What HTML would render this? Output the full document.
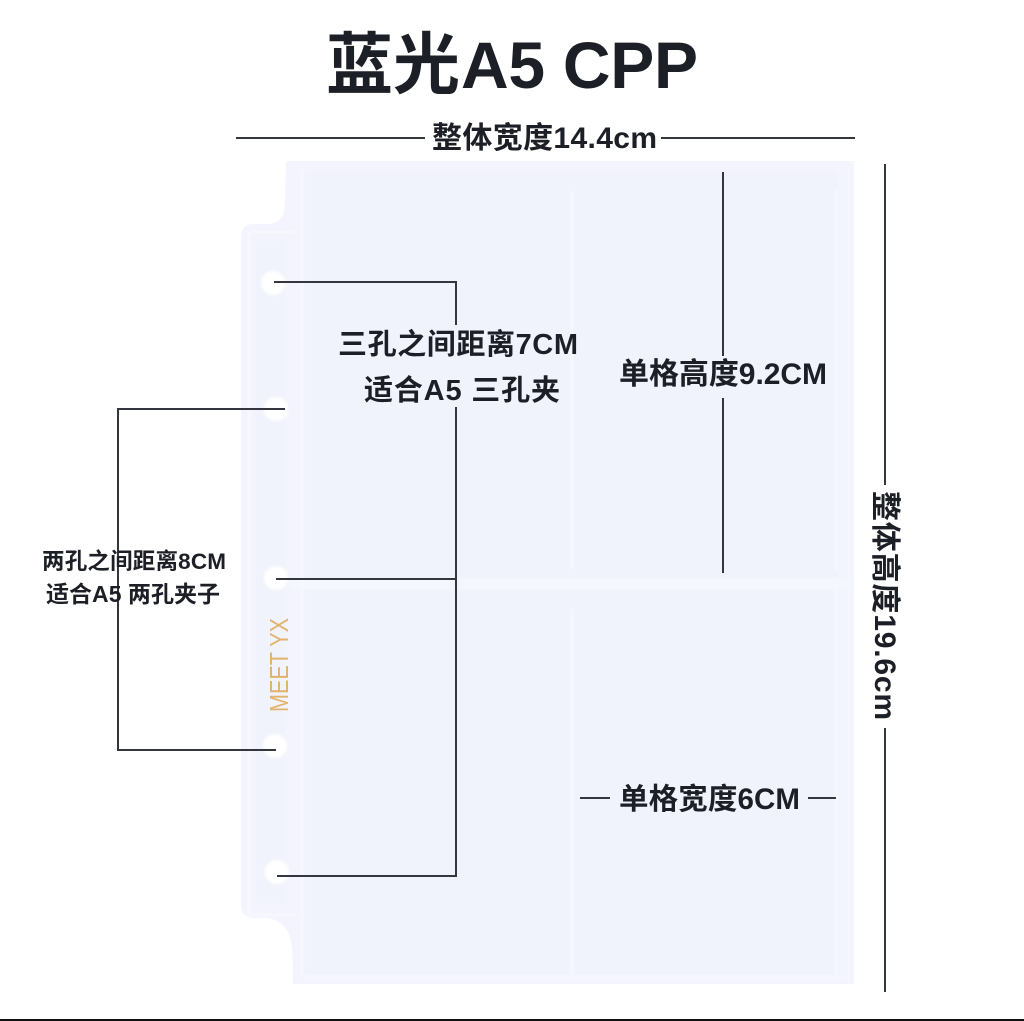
<!DOCTYPE html>
<html lang="zh"><head><meta charset="utf-8"><style>
html,body{margin:0;padding:0;background:#fff}
svg{display:block}
text{font-family:"Liberation Sans","Noto Sans CJK SC",sans-serif;fill:#1c1f26;font-weight:700}
</style></head><body>
<svg width="1024" height="1021" viewBox="0 0 1024 1021" xmlns="http://www.w3.org/2000/svg">
<defs><filter id="b" x="-5%" y="-5%" width="110%" height="110%"><feGaussianBlur stdDeviation="1.2"/></filter></defs>
<rect width="1024" height="1021" fill="#fff"/>
<path d="M286 161H854V984H293Q293 950 291 942Q288 922 268 918H252Q241 916 241 905V238Q241 224 254 224H270Q284 222 285 205Z" fill="#f3f4fd"/>
<g filter="url(#b)">
<rect x="304" y="172" width="534" height="804" fill="#f0f2fc"/>
<rect x="255" y="240" width="30" height="664" fill="#f1f3fc"/>
<rect x="290" y="578" width="560" height="12" fill="#f5f7fe"/>
<g fill="none" stroke="#f8f9ff" stroke-width="2.5">
<path d="M302 170V976"/><path d="M249 232H298M249 915H298M249 232V915"/>
<path d="M572 190V570M572 608V975"/>
<path d="M304 977H846"/>
<path d="M836 190V570M836 590V975"/>
</g>
</g>
<g fill="#fff" filter="url(#b)"><ellipse cx="273" cy="283" rx="12" ry="12"/><ellipse cx="276" cy="409" rx="12" ry="12"/><ellipse cx="276" cy="578" rx="12" ry="12"/><ellipse cx="275" cy="746" rx="12" ry="12"/><ellipse cx="277" cy="872" rx="12" ry="12"/></g>
<g fill="none" stroke="#33363e" stroke-width="2">
<path d="M236 138H425M661 138H855"/>
<path d="M274 282H456V325M456 407V876H277"/>
<path d="M276 579H456"/>
<path d="M285 409H118V750H276"/>
<path d="M723 172V356M723 398V573"/>
<path d="M885 164V485M885 728V992"/>
<path d="M580 798H610M808 798H836"/>
</g>
<rect x="0" y="1019" width="1024" height="2" fill="#111"/>
<text x="326" y="88" font-size="67">蓝光</text>
<text x="461" y="88" font-size="66" textLength="237" lengthAdjust="spacing">A5 CPP</text>
<text x="432" y="148" font-size="30" textLength="225" lengthAdjust="spacing">整体宽度14.4cm</text>
<text x="338" y="354" font-size="29" textLength="240" lengthAdjust="spacing">三孔之间距离7CM</text>
<text x="364" y="400" font-size="29" textLength="196" lengthAdjust="spacing">适合A5 三孔夹</text>
<text x="619" y="384" font-size="30" textLength="208" lengthAdjust="spacing">单格高度9.2CM</text>
<text x="619" y="809" font-size="29.5" textLength="181" lengthAdjust="spacing">单格宽度6CM</text>
<text x="42" y="569" font-size="22.5" textLength="184" lengthAdjust="spacing">两孔之间距离8CM</text>
<text x="46" y="602" font-size="23" textLength="174" lengthAdjust="spacing">适合A5 两孔夹子</text>
<text transform="translate(875 491) rotate(90)" font-size="30" textLength="229" lengthAdjust="spacing">整体高度19.6cm</text>
<text transform="translate(288 712) rotate(-90)" font-size="26" style="fill:#e2b36a;font-weight:400" textLength="94" lengthAdjust="spacingAndGlyphs">MEET YX</text>
</svg>
</body></html>
